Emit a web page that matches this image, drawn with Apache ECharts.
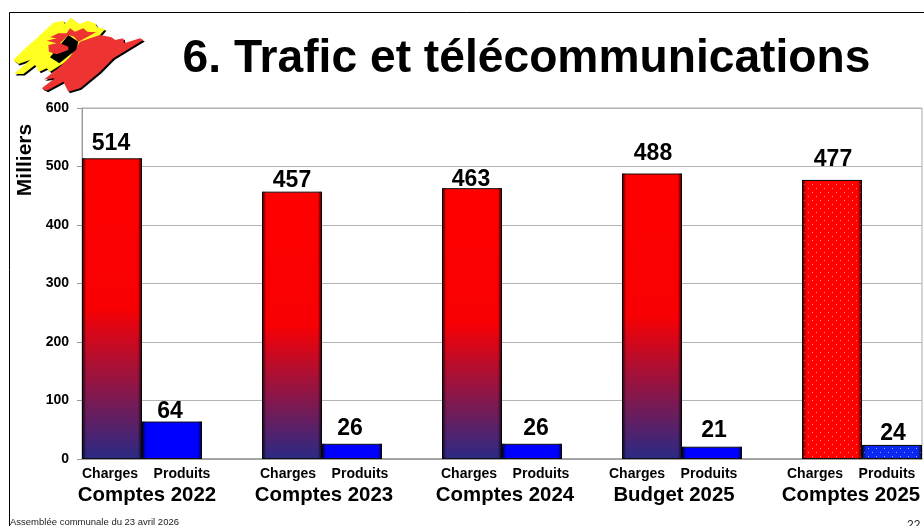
<!DOCTYPE html>
<html>
<head>
<meta charset="utf-8">
<style>
html, body { margin: 0; padding: 0; background: #fff; }
#chart { width: 924px; height: 526px; }
</style>
<script src="https://cdn.jsdelivr.net/npm/echarts@6/dist/echarts.min.js"></script>
</head>
<body>
<div id="chart"></div>
<script>
var groups = ['Comptes 2022', 'Comptes 2023', 'Comptes 2024', 'Budget 2025', 'Comptes 2025']
var charges = [514, 457, 463, 488, 477]
var produits = [64, 26, 26, 21, 24]
var yTicks = [0, 100, 200, 300, 400, 500, 600]

// gap above each bar for the value labels, the original was placed by hand
var chargesGap = [3, -1, -3, 8, 9]
var produitsGap = [-2, 4, 4, 5, 0]
// sideways shift of the same labels
var chargesShift = [-1, 0, -1, 1, 1]
var produitsShift = [-2, -2, 4, 2, 1]
// label centres on the page
var chargesLabelX = [110, 288, 469, 637, 815]
var produitsLabelX = [182, 360, 541, 709, 887]
var groupLabelX = [147, 324, 505, 674, 851]

var font = '"Liberation Sans", Arial, sans-serif'
var last = groups.length - 1

var redFade = {
    type: 'linear', x: 0, y: 0, x2: 0, y2: 1,
    colorStops: [
        { offset: 0, color: '#ff0000' },
        { offset: 0.5, color: '#f80004' },
        { offset: 1, color: '#2a2a85' }
    ]
}
var edges = {
    type: 'linear', x: 0, y: 0, x2: 1, y2: 0,
    colorStops: [
        { offset: 0, color: 'rgba(0,0,0,0.8)' },
        { offset: 0.07, color: 'rgba(0,0,0,0)' },
        { offset: 0.93, color: 'rgba(0,0,0,0)' },
        { offset: 1, color: 'rgba(0,0,0,0.8)' }
    ]
}
var dots = {
    symbol: 'rect',
    symbolSize: 1,
    color: 'rgba(255,255,255,0.6)',
    dashArrayX: [[1, 7], [0, 4, 1, 3]],
    dashArrayY: [1, 3]
}

// 3 slots per group, the last group has no empty slot behind it
var slots = []
groups.forEach(function(g, i) {
    slots.push('Charges', 'Produits')
    if (i < last) slots.push('')
})

function slotData(values, pos, gaps, shifts, color) {
    var out = slots.map(function() { return null })
    values.forEach(function(v, i) {
        var item = { value: v, label: { distance: gaps[i], offset: [shifts[i], 0] } }
        item.itemStyle = { color: i === last ? color.flat : color.fill }
        if (i === last) item.itemStyle.decal = dots
        out[i * 3 + pos] = item
    })
    return out
}
function edgeData(values, pos) {
    var out = slots.map(function() { return null })
    values.forEach(function(v, i) { out[i * 3 + pos] = v })
    return out
}
function barSeries(name, data) {
    return {
        name: name,
        type: 'bar',
        barWidth: '100%',
        barGap: '-100%',
        data: data,
        itemStyle: { borderColor: '#111', borderWidth: 1 },
        label: {
            show: true,
            position: 'top',
            color: '#000',
            fontFamily: font,
            fontWeight: 'bold',
            fontSize: 23
        }
    }
}
function edgeSeries(data) {
    return {
        type: 'bar',
        barWidth: '100%',
        barGap: '-100%',
        silent: true,
        data: data,
        itemStyle: { color: edges }
    }
}
function text(x, y, str, size) {
    return {
        type: 'text',
        silent: true,
        style: {
            text: str,
            x: x,
            y: y,
            fill: '#000',
            font: 'bold ' + size + 'px ' + font,
            textAlign: 'center',
            textVerticalAlign: 'middle'
        }
    }
}
// logo points are read at 3x, so scale them down
function logoShape(points, fill, shadow) {
    return {
        type: 'polygon',
        silent: true,
        scaleX: 1 / 3,
        scaleY: 1 / 3,
        shape: { points: points },
        style: {
            fill: fill,
            shadowColor: shadow ? '#000' : 'transparent',
            shadowBlur: 0,
            shadowOffsetX: shadow ? 1.5 : 0,
            shadowOffsetY: shadow ? 1.5 : 0
        }
    }
}

var graphics = [
    { type: 'line', silent: true, shape: { x1: 9.5, y1: 12.5, x2: 924, y2: 12.5 }, style: { stroke: '#000', lineWidth: 1 } },
    { type: 'line', silent: true, shape: { x1: 9.5, y1: 12.5, x2: 9.5, y2: 526 }, style: { stroke: '#000', lineWidth: 1 } },
    logoShape([[40,180],[70,150],[110,115],[160,68],[190,62],[195,72],[212,53],[228,65],[240,72],[262,62],[285,70],[292,82],[315,88],[300,105],[230,165],[150,215],[140,205],[118,215],[105,195],[70,222],[42,222],[90,180],[55,192]], '#ffff22', true),
    logoShape([[130,240],[180,200],[210,170],[240,125],[270,115],[300,105],[335,112],[345,120],[370,115],[372,130],[420,115],[430,120],[340,175],[300,215],[240,265],[205,275],[195,255],[190,245],[140,272],[125,265],[165,235],[135,238]], '#ee3333', true),
    logoShape([[150,172],[205,105],[235,125],[228,150],[178,190]], '#000', false),
    logoShape([[150,112],[175,100],[200,100],[210,85],[225,95],[250,85],[262,95],[288,97],[255,115],[235,125],[222,110],[205,105],[195,115],[180,130],[205,140],[205,150],[170,163],[147,155],[145,135],[170,130],[140,122],[170,115]], '#ee3333', false),
    text(526.5, 59, '6. Trafic et télécommunications', 46.2),
    {
        type: 'text',
        silent: true,
        x: 25,
        y: 160,
        rotation: Math.PI / 2,
        style: { text: 'Milliers', x: 0, y: 0, fill: '#000', font: 'bold 21px ' + font, textAlign: 'center', textVerticalAlign: 'middle' }
    },
    { type: 'text', silent: true, style: { text: 'Assemblée communale du 23 avril 2026', x: 10, y: 522, fill: '#222', font: '9.5px ' + font, textVerticalAlign: 'middle' } },
    { type: 'text', silent: true, style: { text: '22', x: 907, y: 526, fill: '#222', font: '12px ' + font, textVerticalAlign: 'middle' } }
]
groups.forEach(function(g, i) {
    graphics.push(text(chargesLabelX[i], 474, 'Charges', 14))
    graphics.push(text(produitsLabelX[i], 474, 'Produits', 14))
    graphics.push(text(groupLabelX[i], 495, g, 20.4))
})

var myChart = echarts.init(document.getElementById('chart'), null, { renderer: 'canvas' })
myChart.setOption({
    animation: false,
    backgroundColor: '#fff',
    grid: { left: 82, right: 2, top: 108, bottom: 67, show: true, borderColor: '#aaa', borderWidth: 1 },
    xAxis: {
        type: 'category',
        data: slots,
        axisLine: { lineStyle: { color: '#999', width: 1.5 } },
        axisTick: { show: false },
        axisLabel: { show: false }
    },
    yAxis: {
        type: 'value',
        min: yTicks[0],
        max: yTicks[yTicks.length - 1],
        interval: 100,
        axisLine: { show: true, lineStyle: { color: '#999' } },
        axisTick: { show: true, length: 5, lineStyle: { color: '#999' } },
        splitLine: { lineStyle: { color: '#b4b4b4', width: 1 } },
        axisLabel: { color: '#000', fontFamily: font, fontWeight: 'bold', fontSize: 14, margin: 13 }
    },
    series: [
        barSeries('Charges', slotData(charges, 0, chargesGap, chargesShift, { fill: redFade, flat: '#ff0000' })),
        barSeries('Produits', slotData(produits, 1, produitsGap, produitsShift, { fill: '#0000ff', flat: '#0a28f0' })),
        edgeSeries(edgeData(charges, 0)),
        edgeSeries(edgeData(produits, 1))
    ],
    graphic: { elements: graphics }
})
</script>
</body>
</html>
